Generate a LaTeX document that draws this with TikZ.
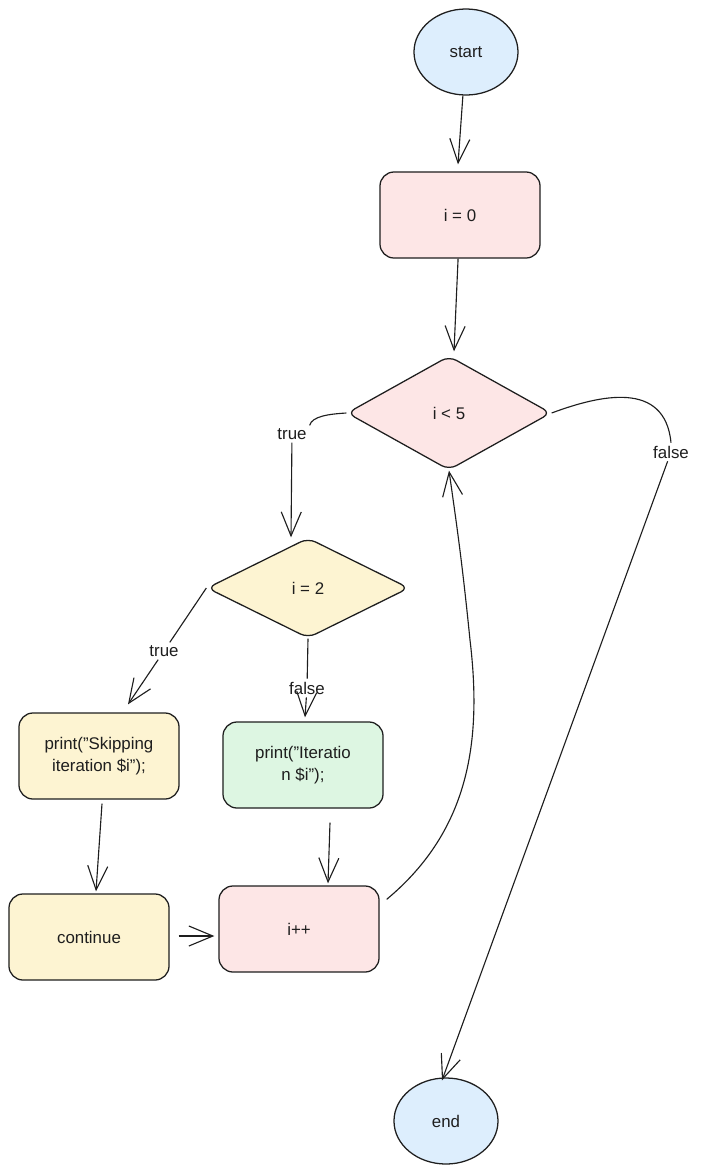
\documentclass[tikz,border=0pt]{standalone}
\usepackage{fontspec}
\setmainfont{Liberation Sans}
\usepackage{xcolor}
\usetikzlibrary{shapes.geometric, arrows.meta, positioning, calc}

\definecolor{ink}{HTML}{1E1E1E}
\definecolor{skyfill}{HTML}{DDEEFD}
\definecolor{rosefill}{HTML}{FDE6E6}
\definecolor{sandfill}{HTML}{FDF4D2}
\definecolor{mintfill}{HTML}{DDF6E2}

\tikzset{
  base/.style={draw=ink, line width=0.9pt, text=ink, font=\fontsize{12}{16}\selectfont, inner sep=0pt},
  terminal/.style={base, ellipse, minimum width=2.6cm, minimum height=2.15cm, fill=skyfill},
  stepbox/.style={base, rectangle, rounded corners=10pt, minimum width=4cm, minimum height=2.15cm, align=center},
  decision/.style={base, diamond, aspect=1.8, rounded corners=6pt},
  lbl/.style={text=ink, font=\fontsize{12}{14}\selectfont, inner sep=2pt},
  arr/.style={draw=ink, line width=0.8pt, -{Straight Barb[length=6mm, width=5mm]}},
  ln/.style={draw=ink, line width=0.8pt}
}

\begin{document}
\begin{tikzpicture}[x=0.025cm, y=-0.025cm]
    \useasboundingbox (0,0) rectangle (706,1173);

    \node[terminal] (start) at (466,52) {start};
    \node[stepbox, fill=rosefill] (init) at (460,215) {i = 0};
    \node[decision, fill=rosefill, minimum width=5.1cm, minimum height=2.85cm] (cond) at (449,413) {i < 5};
    \node[decision, fill=sandfill, minimum width=5.05cm, minimum height=2.5cm] (check) at (308,588) {i = 2};
    \node[stepbox, fill=sandfill] (skip) at (99,756) {print("Skipping\\iteration \$i");};
    \node[stepbox, fill=mintfill] (iter) at (303,765) {print("Iteratio\\n \$i");};
    \node[stepbox, fill=sandfill] (cont) at (89,937) {continue};
    \node[stepbox, fill=rosefill] (incr) at (299,929) {i++};
    \node[terminal] (stop) at (446,1121) {end};

    % edge labels
    \node[lbl] (ctrue) at (292,434) {true};
    \node[lbl] (cfalse) at (671,452) {false};
    \node[lbl] (ktrue) at (164,651) {true};
    \node[lbl] (kfalse) at (307,688) {false};

    \draw[arr] (start) -- ($(init.north)+(-2,-7)$);
    \draw[arr] (init) -- ($(cond.north)+(5,-4)$);

    \draw[ln] (cond.west) .. controls (330,414) and (312,416) .. (ctrue.north east);
    \draw[arr] (ctrue) -- ($(check.north)+(-17,0)$);

    \draw[ln] (cond.east) .. controls (600,395) and (665,380) .. (cfalse.north);
    \draw[arr] (cfalse) -- ($(stop.north)+(-4,3)$);

    \draw[ln] (check.west) -- (ktrue);
    \draw[arr] (ktrue) -- ($(skip.north)+(29,-8)$);

    \draw[ln] (check.south) -- (kfalse);
    \draw[arr] (kfalse) -- ($(iter.north)+(2,-4)$);

    \draw[arr] ($(skip.south)+(3,4)$) -- ($(cont.north)+(7,-2)$);
    \draw[arr] ($(iter.south)+(27,14)$) -- ($(incr.north)+(29,-2)$);
    \draw[arr] ($(cont.east)+(9,-1)$) -- ($(incr.west)+(-4,7)$);

    \draw[arr] ($(incr.north east)+(7,14)$) .. controls (470,830) and (482,740) .. (470,640)
        .. controls (462,560) and (456,520) .. (cond.south);
\end{tikzpicture}
\end{document}
